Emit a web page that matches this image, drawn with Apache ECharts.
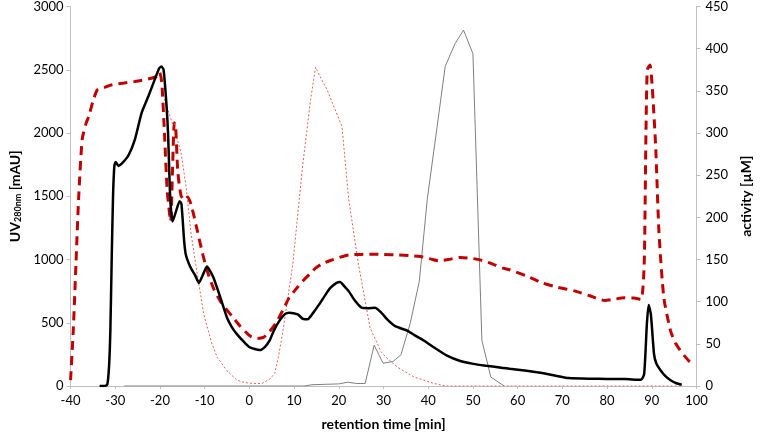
<!DOCTYPE html>
<html><head><meta charset="utf-8">
<script src="https://cdn.jsdelivr.net/npm/echarts@6/dist/echarts.min.js"></script>
<style>html,body{margin:0;padding:0;background:#fff}#c{width:761px;height:436px}</style>
</head><body><div id="c"></div>
<script>
// UV 280nm (left axis, mAU)
const uvTime = [-33.5,-32.5,-31.8,-31.4,-31.1,-30.8,-30.5,-30.2,-29.9,-29.3,-28.5,-27.1,-25.6,-24.1,-22.6,-21.2,-20.2,-19.7,-19.2,-18.6,-18.2,-17.7,-17.2,-16.5,-15.6,-15.2,-14.6,-14.2,-13.1,-12.2,-11.3,-10.5,-9.5,-8.8,-8,-6.5,-5,-4,-2.8,-1,0.1,2.3,3.5,4.5,5.5,6.7,8,8.9,10.8,12,13,14.3,15.6,17,18.1,19.5,20.3,21.2,22.2,23.5,25.1,26.5,28.1,29.5,31,32.5,35.4,37,39.1,41.5,44.2,47,50.1,53,56.7,58.2,62,65.5,68,71.4,76.6,80,84,87.6,88.3,88.9,89.3,89.8,90.5,91,92,93,94.2,95.5,96.7];
const uvValue = [0,0,10,150,436,1000,1500,1740,1770,1740,1760,1820,1950,2160,2290,2420,2510,2525,2500,2250,2003,1480,1300,1370,1460,1440,1150,1036,932,880,815,870,945,910,854,700,540,470,410,340,305,284,310,358,440,515,570,580,566,530,527,580,645,720,775,815,822,790,750,680,619,615,619,580,520,475,436,400,358,300,240,200,175,160,143,136,120,102,85,63,57,56,55,49,96,488,640,566,253,180,123,80,45,22,10];
// red dashed trace (left axis)
const dashTime = [-40,-39.4,-38.8,-38.2,-37.4,-36.5,-35.9,-35,-34,-32.5,-30.7,-28,-25.6,-23.5,-21.9,-20.6,-20.1,-19.6,-19,-18.4,-17.9,-17.6,-17.2,-16.8,-16.5,-16,-15.3,-14.5,-13.8,-13,-11.6,-10.5,-9.4,-8,-6.5,-5,-3.6,-2,0.1,1.5,3.1,4.5,6,7.5,8.9,10.5,11.9,13.5,14.8,16.5,18.5,20,22.2,25,27.3,30,33.2,36,38.3,40.5,42.4,44.5,47.1,49.5,51.6,54,56.7,58.2,62,65.5,69,72.9,76,79.5,81.5,83.9,86,87.6,88.3,88.7,89,89.6,90.1,90.9,91.6,92.7,94.2,95.3,96.4,97.5,98.6,99.5];
const dashValue = [47,436,958,1480,1950,2080,2133,2250,2342,2360,2381,2395,2407,2420,2433,2450,2480,2400,2000,1550,1376,1300,1700,2081,2050,1690,1506,1470,1494,1430,1220,1050,906,770,671,600,540,470,397,375,384,430,501,600,697,770,828,885,932,970,997,1015,1036,1040,1042,1040,1036,1030,1023,1005,989,1000,1016,1010,997,970,932,919,870,815,780,750,715,676,685,697,695,684,958,2003,2499,2538,2368,1872,1220,697,436,340,280,230,188,170];
// red dotted activity (right axis, µM)
const dotTime = [-19,-17,-15.3,-14.2,-13.1,-12,-10.2,-8.5,-7.2,-5,-2.8,-1,0.8,2.8,4.5,5.7,6.5,7.5,9.7,11.9,13.7,14.8,16,17.4,19,20.7,22.2,24.4,27,29.5,31,33.2,36.9,41.3,44,60,80,97];
const dotValue = [340,308,277,238,183,144,85,52,34,18,7,4,3,3,8,15,35,65,144,261,340,378,365,351,330,308,222,144,69,40,32,22,10.5,3,0,0,0,0];
// gray activity (right axis, µM)
const grayTime = [-28,-10,12.2,14,17,20,22,24,25.9,27.9,29.9,32.1,33.9,36,38,39.8,42,43.8,46,47.9,50,52,54,56.7,57];
const grayValue = [0,0,0,1.5,2,2.5,4.5,3,3,48.5,27,29,37,75,124,222,308,379,406,422,394,54,10.6,1,0];

const zip = (a,b) => a.map((x,i)=>[x,b[i]]);
const FONT = 'Lato';
const axisLineStyle = {color:'#bfbfbf', width:1};
const plain = v => String(v);
const chart = echarts.init(document.getElementById('c'), null, {renderer:'canvas'});
chart.setOption({
  animation:false,
  backgroundColor:'#fff',
  textStyle:{fontFamily:FONT},
  grid:{left:68, right:58, top:6, bottom:47, containLabel:false},
  xAxis:{
    type:'value', min:-40, max:100, interval:10,
    name:'retention time [min]', nameLocation:'middle', nameGap:31,
    nameTextStyle:{fontFamily:FONT, fontSize:14, fontWeight:'bold', color:'#000'},
    axisLine:{show:true, onZero:false, lineStyle:axisLineStyle},
    axisTick:{show:true, length:3, lineStyle:axisLineStyle},
    axisLabel:{fontFamily:FONT, fontSize:13, color:'#000', margin:8, formatter:plain},
    splitLine:{show:false}
  },
  yAxis:[{
    type:'value', min:0, max:3000, interval:500, position:'left',
    name:'{a|UV}{s|280nm}{a| [mAU]}', nameLocation:'middle', nameRotate:90, nameGap:48,
    nameTextStyle:{rich:{a:{fontFamily:FONT, fontSize:14, fontWeight:'bold', color:'#000'}, s:{fontFamily:FONT, fontSize:9, fontWeight:'bold', color:'#000', verticalAlign:'bottom', padding:[6,0,0,0]}}},
    axisLine:{show:true, onZero:false, lineStyle:axisLineStyle},
    axisTick:{show:true, length:4, lineStyle:axisLineStyle},
    axisLabel:{fontFamily:FONT, fontSize:13, color:'#000', margin:7, formatter:plain},
    splitLine:{show:false}
  },{
    type:'value', min:0, max:450, interval:50, position:'right',
    name:'activity [µM]', nameLocation:'middle', nameRotate:90, nameGap:40,
    nameTextStyle:{fontFamily:FONT, fontSize:14, fontWeight:'bold', color:'#000'},
    axisLine:{show:true, onZero:false, lineStyle:axisLineStyle},
    axisTick:{show:true, length:4, lineStyle:axisLineStyle},
    axisLabel:{fontFamily:FONT, fontSize:13, color:'#000', margin:9, formatter:plain},
    splitLine:{show:false}
  }],
  series:[
    {type:'line', yAxisIndex:1, data:zip(dotTime,dotValue), showSymbol:false, z:1,
     lineStyle:{color:'#e0605c', width:1, type:[2,2]}},
    {type:'line', yAxisIndex:1, data:zip(grayTime,grayValue), showSymbol:false, z:2,
     lineStyle:{color:'#7f7f7f', width:1}},
    {type:'line', yAxisIndex:0, data:zip(dashTime,dashValue), showSymbol:false, z:3, smooth:0.2,
     lineStyle:{color:'#c00000', width:3, type:[9,6]}},
    {type:'line', yAxisIndex:0, data:zip(uvTime,uvValue), showSymbol:false, z:4, smooth:0.2,
     lineStyle:{color:'#000', width:2.5}}
  ]
});
</script></body></html>
